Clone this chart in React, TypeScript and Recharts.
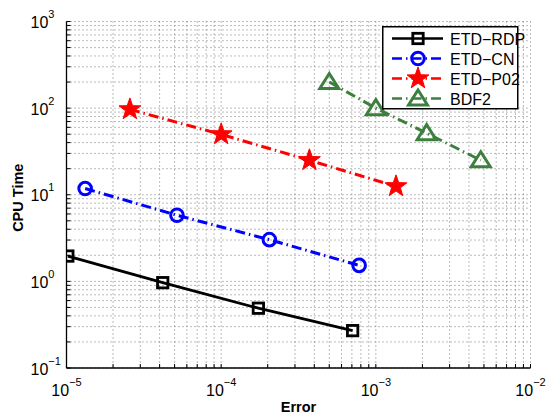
import React from "react";
import { CartesianGrid, Legend, Line, LineChart, XAxis, YAxis } from "recharts";

// error vs. cpu time
const rdpError = [1.02e-5, 4.19e-5, 1.74e-4, 7.08e-4];
const rdpTime = [1.96, 0.966, 0.49, 0.27];
const cnError = [1.32e-5, 5.18e-5, 2.05e-4, 7.8e-4];
const cnTime = [11.8, 5.8, 3.03, 1.53];
const p02Error = [2.57e-5, 1.0e-4, 3.72e-4, 1.35e-3];
const p02Time = [96.6, 49.7, 25.0, 12.5];
const bdfError = [5.0e-4, 1.0e-3, 2.13e-3, 4.77e-3];
const bdfTime = [200, 100, 51.4, 25];

const seriesNames = ["ETD\u2212RDP", "ETD\u2212CN", "ETD\u2212P02", "BDF2"];

const xDecades = [1e-5, 1e-4, 1e-3, 1e-2];
const xExponents = ["\u22125", "\u22124", "\u22123", "\u22122"];
const yDecades = [1e-1, 1, 10, 100, 1000];
const yExponents = ["\u22121", "0", "1", "2", "3"];
const minorSteps = [1, 2, 3, 4, 5, 6, 7, 8, 9];

const FONT = "'Liberation Sans', Arial, Helvetica, sans-serif";
const BLUE = "#0000ff";
const RED = "#ff0000";
const GREEN = "#3d803d";
const DASHDOT = "10 4 1.5 4";

function withMinor(decades: number[]) {
	return decades.flatMap((d, i) =>
		i === decades.length - 1 ? [d] : minorSteps.map((m) => m * d),
	);
}
const xTicks = withMinor(xDecades);
const yTicks = withMinor(yDecades);

function toPoints(xs: number[], ys: number[]) {
	return xs.map((x, i) => ({ x, y: ys[i] }));
}
const rdp = toPoints(rdpError, rdpTime);
const cn = toPoints(cnError, cnTime);
const p02 = toPoints(p02Error, p02Time);
const bdf = toPoints(bdfError, bdfTime);

function decadeIndex(decades: number[], v: number) {
	return decades.findIndex(
		(d) => Math.abs(Math.log10(d) - Math.log10(v)) < 1e-6,
	);
}

const square = (cx: number, cy: number, key?: number) => (
	<rect
		key={key}
		x={cx - 5.2}
		y={cy - 5.2}
		width={10.4}
		height={10.4}
		fill="none"
		stroke="#000"
		strokeWidth={2.8}
	/>
);
const circle = (cx: number, cy: number, key?: number) => (
	<circle
		key={key}
		cx={cx}
		cy={cy}
		r={6.3}
		fill="none"
		stroke={BLUE}
		strokeWidth={3}
	/>
);
const star = (cx: number, cy: number, key?: number) => {
	const pts: string[] = [];
	for (let k = 0; k < 10; k++) {
		const r = k % 2 === 0 ? 11.5 : 4.6;
		const a = -Math.PI / 2 + (k * Math.PI) / 5;
		pts.push(`${cx + r * Math.cos(a)},${cy + r * Math.sin(a)}`);
	}
	return (
		<polygon
			key={key}
			points={pts.join(" ")}
			fill={RED}
			stroke={RED}
			strokeWidth={1}
		/>
	);
};
const triangle = (cx: number, cy: number, key?: number) => (
	<polygon
		key={key}
		points={`${cx},${cy - 8.5} ${cx + 9.5},${cy + 6.5} ${cx - 9.5},${cy + 6.5}`}
		fill="none"
		stroke={GREEN}
		strokeWidth={3}
	/>
);

const legendRows = [
	{ name: seriesNames[0], color: "#000", dash: undefined, marker: square },
	{ name: seriesNames[1], color: BLUE, dash: DASHDOT, marker: circle },
	{ name: seriesNames[2], color: RED, dash: DASHDOT, marker: star },
	{ name: seriesNames[3], color: GREEN, dash: DASHDOT, marker: triangle },
];

function LegendBox() {
	return (
		<svg
			width={160}
			height={84}
			style={{ display: "block", overflow: "visible" }}
		>
			<rect
				x={0.75}
				y={0.75}
				width={135}
				height={82}
				fill="#fff"
				stroke="#000"
				strokeWidth={1.5}
			/>
			{legendRows.map((s, i) => {
				const cy = 12.5 + i * 20;
				return (
					<g key={s.name}>
						<line
							x1={10}
							x2={61}
							y1={cy}
							y2={cy}
							stroke={s.color}
							strokeWidth={2.5}
							strokeDasharray={s.dash}
						/>
						{s.marker(36, cy)}
						<text
							x={68}
							y={cy + 6}
							fontSize={16}
							fontFamily={FONT}
							fill="#000"
						>
							{s.name}
						</text>
					</g>
				);
			})}
		</svg>
	);
}

function XTick({ x, y, payload }: any) {
	const i = decadeIndex(xDecades, payload.value);
	if (i < 0) return <g />;
	return (
		<text
			x={x}
			y={y + 27.5}
			textAnchor="middle"
			fontFamily={FONT}
			fontSize={16}
			fill="#000"
		>
			10
			<tspan dy={-10} fontSize={11}>
				{xExponents[i]}
			</tspan>
		</text>
	);
}

function YTick({ x, y, payload }: any) {
	const i = decadeIndex(yDecades, payload.value);
	if (i < 0) return <g />;
	return (
		<text x={x - 36} y={y + 6.5} fontFamily={FONT} fontSize={16} fill="#000">
			10
			<tspan dy={-10} fontSize={11}>
				{yExponents[i]}
			</tspan>
		</text>
	);
}

function YLabel({ viewBox }: any) {
	const cy = viewBox.y + viewBox.height / 2 + 3;
	return (
		<text
			x={23}
			y={cy}
			transform={`rotate(-90 23 ${cy})`}
			textAnchor="middle"
			fontFamily={FONT}
			fontWeight="bold"
			fontSize={14.5}
			fill="#000"
		>
			CPU Time
		</text>
	);
}

export default function App() {
	return (
		<div
			style={{
				position: "absolute",
				left: 0,
				top: 0,
				width: 547,
				height: 415,
				background: "#fff",
			}}
		>
			<LineChart
				width={547}
				height={415}
				margin={{ top: 21.5, right: 16.5, left: 0, bottom: 0 }}
			>
				<CartesianGrid
					stroke="#777"
					strokeDasharray="1 3"
					horizontalValues={yTicks}
					verticalValues={xTicks}
				/>
				<XAxis
					dataKey="x"
					type="number"
					scale="log"
					domain={[1e-5, 1e-2]}
					allowDataOverflow
					ticks={xTicks}
					interval={0}
					tick={<XTick />}
					tickSize={-4}
					tickMargin={4}
					tickLine={{ stroke: "#000" }}
					axisLine={{ stroke: "#000", strokeWidth: 1.3 }}
					height={47}
					label={{
						value: "Error",
						position: "insideBottom",
						offset: 3,
						fontFamily: FONT,
						fontWeight: "bold",
						fontSize: 14.5,
						fill: "#000",
					}}
				/>
				<XAxis
					xAxisId="top"
					orientation="top"
					dataKey="x"
					type="number"
					scale="log"
					domain={[1e-5, 1e-2]}
					allowDataOverflow
					ticks={xTicks}
					interval={0}
					tick={false}
					tickSize={-4}
					tickLine={{ stroke: "#000" }}
					axisLine={{ stroke: "#000", strokeWidth: 1.3 }}
					height={0}
				/>
				<YAxis
					dataKey="y"
					type="number"
					scale="log"
					domain={[1e-1, 1e3]}
					allowDataOverflow
					ticks={yTicks}
					interval={0}
					tick={<YTick />}
					tickSize={-4}
					tickMargin={4}
					tickLine={{ stroke: "#000" }}
					axisLine={{ stroke: "#000", strokeWidth: 1.3 }}
					width={66.5}
					label={<YLabel />}
				/>
				<YAxis
					yAxisId="right"
					orientation="right"
					dataKey="y"
					type="number"
					scale="log"
					domain={[1e-1, 1e3]}
					allowDataOverflow
					ticks={yTicks}
					interval={0}
					tick={false}
					tickSize={-4}
					tickLine={{ stroke: "#000" }}
					axisLine={{ stroke: "#000", strokeWidth: 1.3 }}
					width={0}
				/>
				<Line
					data={rdp}
					dataKey="y"
					name={seriesNames[0]}
					stroke="#000"
					strokeWidth={2.8}
					dot={(p: any) => square(p.cx, p.cy, p.index)}
					isAnimationActive={false}
				/>
				<Line
					data={cn}
					dataKey="y"
					name={seriesNames[1]}
					stroke={BLUE}
					strokeWidth={3}
					strokeDasharray={DASHDOT}
					dot={(p: any) => circle(p.cx, p.cy, p.index)}
					isAnimationActive={false}
				/>
				<Line
					data={p02}
					dataKey="y"
					name={seriesNames[2]}
					stroke={RED}
					strokeWidth={3}
					strokeDasharray={DASHDOT}
					dot={(p: any) => star(p.cx, p.cy, p.index)}
					isAnimationActive={false}
				/>
				<Line
					data={bdf}
					dataKey="y"
					name={seriesNames[3]}
					stroke={GREEN}
					strokeWidth={3}
					strokeDasharray={DASHDOT}
					dot={(p: any) => triangle(p.cx, p.cy, p.index)}
					isAnimationActive={false}
				/>
				<Legend
					layout="vertical"
					align="center"
					verticalAlign="middle"
					wrapperStyle={{ left: 382, top: 26, width: 160, height: 84 }}
					content={() => <LegendBox />}
				/>
			</LineChart>
		</div>
	);
}
